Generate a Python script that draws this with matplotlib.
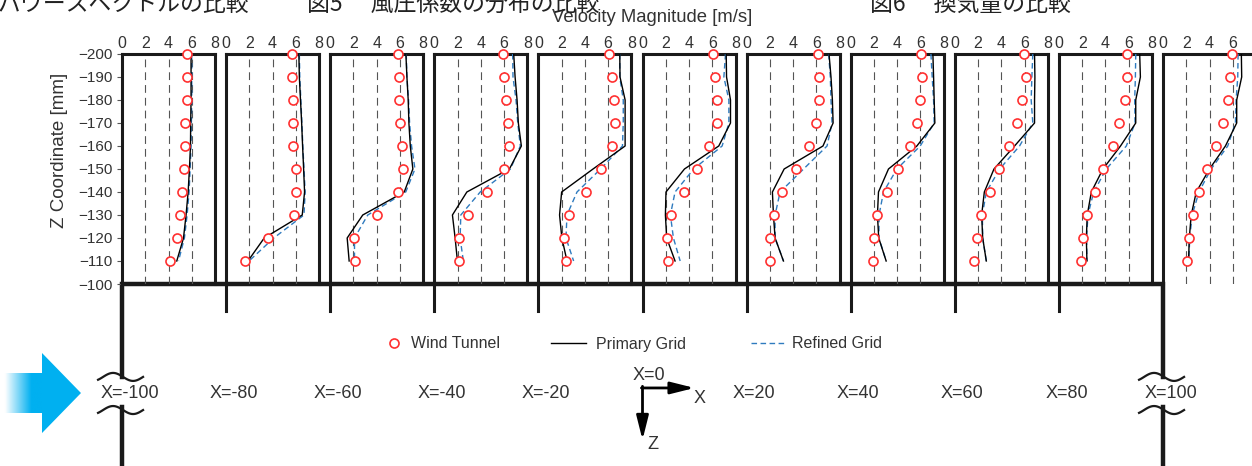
import numpy as np
import matplotlib
matplotlib.use('Agg')
import matplotlib.pyplot as plt
from matplotlib.lines import Line2D
from matplotlib.patches import Polygon
from matplotlib.colors import LinearSegmentedColormap

plt.rcParams['font.family'] = ['Liberation Sans', 'Noto Sans CJK JP']

# measuring heights (mm) and probe positions (mm)
z_levels = [-200, -190, -180, -170, -160, -150, -140, -130, -120, -110]
x_positions = [-100, -80, -60, -40, -20, 0, 20, 40, 60, 80, 100]

# velocity magnitude [m/s], one row per X position
wind_tunnel = [
    [5.57, 5.57, 5.57, 5.46, 5.46, 5.34, 5.14, 4.97, 4.69, 4.17],
    [5.68, 5.68, 5.77, 5.77, 5.77, 5.97, 5.97, 5.80, 3.57, 1.65],
    [5.80, 5.89, 5.89, 5.97, 6.17, 6.29, 5.80, 4.00, 2.09, 2.11],
    [5.94, 6.02, 6.14, 6.34, 6.46, 6.02, 4.55, 2.94, 2.16, 2.16],
    [6.10, 6.30, 6.50, 6.59, 6.30, 5.40, 4.08, 2.66, 2.23, 2.34],
    [6.07, 6.27, 6.39, 6.39, 5.75, 4.68, 3.55, 2.46, 2.08, 2.17],
    [6.11, 6.22, 6.22, 5.99, 5.33, 4.27, 3.08, 2.36, 1.99, 1.99],
    [6.03, 6.12, 6.00, 5.72, 5.11, 4.11, 3.10, 2.30, 2.04, 1.95],
    [5.97, 6.09, 5.77, 5.37, 4.66, 3.80, 3.00, 2.29, 1.89, 1.69],
    [5.89, 5.89, 5.69, 5.20, 4.66, 3.79, 3.07, 2.39, 2.07, 1.93],
    [5.94, 5.80, 5.60, 5.17, 4.57, 3.80, 3.09, 2.60, 2.26, 2.09],
]
primary_grid = [
    [5.94, 5.94, 5.94, 5.91, 5.89, 5.80, 5.69, 5.51, 5.29, 4.71],
    [6.26, 6.30, 6.40, 6.50, 6.58, 6.67, 6.75, 6.55, 3.28, 1.88],
    [6.51, 6.60, 6.71, 6.77, 6.89, 7.11, 6.37, 2.80, 1.46, 1.63],
    [6.83, 6.95, 7.12, 7.23, 7.49, 6.46, 2.80, 1.56, 1.79, 1.99],
    [7.00, 7.02, 7.46, 7.46, 7.46, 4.70, 2.00, 1.82, 2.02, 2.46],
    [7.20, 7.23, 7.57, 7.57, 6.56, 3.61, 2.02, 1.97, 2.08, 2.80],
    [7.09, 7.26, 7.38, 7.44, 6.57, 3.23, 2.22, 2.31, 2.45, 3.17],
    [7.07, 7.13, 7.18, 7.24, 5.69, 3.25, 2.39, 2.30, 2.41, 3.05],
    [6.86, 6.89, 6.86, 6.86, 5.14, 3.37, 2.54, 2.31, 2.40, 2.71],
    [6.95, 7.01, 6.61, 6.61, 5.30, 3.79, 2.79, 2.44, 2.36, 2.41],
    [6.74, 6.77, 6.34, 6.34, 5.37, 4.00, 2.86, 2.43, 2.26, 2.20],
]
refined_grid = [
    [6.00, 6.00, 6.00, 5.97, 5.94, 5.86, 5.77, 5.60, 5.37, 4.86],
    [6.30, 6.34, 6.43, 6.52, 6.60, 6.70, 6.80, 6.70, 4.10, 1.97],
    [6.54, 6.60, 6.74, 6.83, 7.00, 7.29, 6.50, 3.23, 2.09, 2.09],
    [6.74, 6.77, 7.03, 7.18, 7.40, 6.55, 3.95, 2.28, 2.22, 2.50],
    [7.00, 7.00, 7.30, 7.30, 7.23, 5.35, 3.32, 2.46, 2.37, 3.03],
    [7.14, 7.00, 7.43, 7.43, 6.85, 4.40, 2.80, 2.40, 2.66, 3.24],
    [7.06, 7.20, 7.26, 7.35, 6.92, 4.90, 2.88, 2.45, 2.45, 3.17],
    [6.90, 7.01, 7.13, 7.18, 5.98, 3.97, 2.82, 2.44, 2.43, 3.05],
    [6.71, 6.63, 6.57, 6.71, 5.57, 3.86, 2.71, 2.37, 2.40, 2.71],
    [6.61, 6.58, 6.52, 6.55, 5.80, 4.08, 2.99, 2.50, 2.38, 2.41],
    [6.46, 6.43, 6.29, 6.23, 5.57, 4.14, 3.09, 2.51, 2.30, 2.22],
]
vel_ticks = [0, 2, 4, 6, 8]
z_ticks = list(range(-200, -99, 10))

W, H = 1252, 466
TXT = '#333333'
INK = '#1a1a1a'
RED = '#ff3030'
BLUE = '#2f7bbf'
CYAN = '#00b0f0'

fig = plt.figure(figsize=(W / 100, H / 100), dpi=100)

# background axes in model coordinates: X [mm] horizontally, Z [mm] downwards
mm_x = 5.205   # px per mm along X
mm_z = 2.3     # px per mm along Z
ax_bg = fig.add_axes([0, 0, 1, 1])
ax_bg.axis('off')

# cyan inflow arrow with fading tail
cmap = LinearSegmentedColormap.from_list('tail', [(0, 'white'), (0.12, 'white'), (0.75, CYAN), (1, CYAN)])
ax_bg.imshow(np.linspace(0, 1, 256)[None, :], cmap=cmap, aspect='auto', interpolation='bilinear',
             extent=(-123.44, -115.37, -43.9, -60.9))
ax_bg.add_patch(Polygon([(-115.37, -70.0), (-107.88, -52.6), (-115.37, -35.2)], closed=True,
                        facecolor=CYAN, edgecolor='none'))

ax_bg.set_xlim(-100 - 122 / mm_x, -100 + (W - 122) / mm_x)
ax_bg.set_ylim(-200 + (H - 54) / mm_z, -200 - 54 / mm_z)

# building outline
z_break_top, z_break_bot = -59.57, -46.52
ax_bg.plot([-100, -100, 100, 100], [z_break_top, -100, -100, z_break_top], color=INK, lw=3.2,
           solid_joinstyle='miter')
for xw in (-100, 100):
    ax_bg.plot([xw, xw], [z_break_bot, -15], color=INK, lw=3.2)
    s = np.linspace(0, 45 / mm_x, 60)
    for zc in (-59.6, -45.2):
        ax_bg.plot(xw - 4.6 + s, zc - 1.74 * np.sin(2 * np.pi * s / 7.685 - 0.785), color=INK, lw=1.6)
for xp in x_positions[1:-1]:
    ax_bg.plot([xp, xp], [-100, -88.26], color=INK, lw=2.2)

for xp in x_positions:
    ax_bg.annotate(f'X={xp}' if xp != 0 else '', (xp, -52.6), xytext=(5.5, 0), textcoords='offset points',
                   ha='center', va='center', fontsize=13, color=TXT)
ax_bg.text(1.3, -60.4, 'X=0', ha='center', va='center', fontsize=13, color=TXT)

# coordinate system sketch
arrow = dict(arrowstyle='-|>,head_length=1.2,head_width=0.3', color='black', lw=2,
             shrinkA=0, shrinkB=0, mutation_scale=12)
ax_bg.annotate('', xy=(10, -54.8), xytext=(-0.2, -54.8), arrowprops=arrow)
ax_bg.annotate('', xy=(0, -32.2), xytext=(0, -55.5), arrowprops=arrow)
ax_bg.text(11.05, -50.4, 'X', ha='center', va='center', fontsize=13, color=TXT)
ax_bg.text(2.0, -30.0, 'Z', ha='center', va='center', fontsize=13, color=TXT)

# one profile panel per X position
panel_w = 8 * 93 / 8 / W
for i, xp in enumerate(x_positions):
    left_px = 122 + (xp + 100) * mm_x
    ax = fig.add_axes([left_px / W, 1 - 284 / H, 93 / W, 230 / H])
    ax.set_facecolor('none')
    ax.plot(refined_grid[i], z_levels, color=BLUE, lw=1.0, ls=(0, (4, 2.5)), zorder=3)
    ax.plot(primary_grid[i], z_levels, color='black', lw=1.0, zorder=3.1)
    ax.plot(wind_tunnel[i], z_levels, ls='none', marker='o', mfc='white', mec=RED, ms=6.5, mew=1.2,
            clip_on=False, zorder=5)
    ax.set_xlim(0, 8)
    ax.set_ylim(-100, -200)
    ax.set_xticks(vel_ticks)
    ax.xaxis.tick_top()
    ax.tick_params(axis='x', length=0, pad=2.5, labelsize=11.5, labelcolor=TXT)
    ax.grid(axis='x', color='#555555', lw=0.8, ls=(0, (7, 4.5)))
    for side in ('top', 'left', 'right'):
        ax.spines[side].set_linewidth(2.2)
        ax.spines[side].set_color(INK)
    ax.spines['bottom'].set_visible(False)
    if i == 0:
        ax.set_yticks(z_ticks)
        ax.tick_params(axis='y', length=3.5, width=0.8, color='#555555', pad=3.5, labelsize=11,
                       labelcolor=TXT)
        ax.set_ylabel('Z Coordinate [mm]', fontsize=13.5, color=TXT, va='center')
        ax.yaxis.set_label_coords(-0.667, 0.583)
    else:
        ax.set_yticks([])

fig.text(652 / W, 1 - 17 / H, 'Velocity Magnitude [m/s]', ha='center', va='center', fontsize=13.3, color=TXT)

# clipped captions of the surrounding document
jp = ['Noto Sans CJK JP']
fig.text(-2 / W, 1 - 11 / H, 'パワースペクトルの比較', ha='left', va='baseline', fontsize=16.5, color='#222222', family=jp)
fig.text(307 / W, 1 - 11 / H, '図5\u3000 風圧係数の分布の比較', ha='left', va='baseline', fontsize=16.5, color='#222222', family=jp)
fig.text(870 / W, 1 - 11 / H, '図6\u3000 換気量の比較', ha='left', va='baseline', fontsize=16.5, color='#222222', family=jp)

# legend
entries = [
    (Line2D([], [], ls='none', marker='o', mfc='white', mec=RED, ms=6.5, mew=1.2), 'Wind Tunnel', 384.4, 1.2, 0.46),
    (Line2D([], [], color='black', lw=1.0), 'Primary Grid', 551, 2.19, 0.63),
    (Line2D([], [], color=BLUE, lw=1.0, ls=(0, (4, 2.5))), 'Refined Grid', 751, 2.25, 0.31),
]
for handle, label, x0, hl, pad in entries:
    fig.legend([handle], [label], loc='center left', bbox_to_anchor=(x0 / W, 1 - 344 / H), frameon=False,
               fontsize=11.5, borderpad=0, borderaxespad=0, handlelength=hl, handletextpad=pad,
               labelcolor=TXT)

fig.savefig('out.png', dpi=100)
